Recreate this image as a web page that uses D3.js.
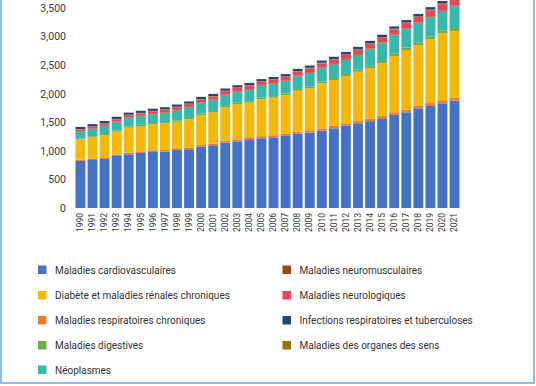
<!DOCTYPE html>
<html>
<head>
<meta charset="utf-8">
<script src="https://cdn.jsdelivr.net/npm/d3@7"></script>
<style>
  body { margin: 0; background: #fff; }
  svg { display: block; font-family: Roboto, "DejaVu Sans", sans-serif; }
</style>
</head>
<body>
<svg id="chart" width="536" height="386"></svg>
<script>
const years = d3.range(1990, 2022).map(String);
const yTicks = [0, 500, 1000, 1500, 2000, 2500, 3000, 3500];

// values, one per year 1990..2021
const cardio = [823, 840, 858, 910, 940, 963, 980, 985, 1015, 1027, 1073, 1097, 1143, 1167, 1190, 1220,
  1237, 1260, 1300, 1318, 1353, 1395, 1440, 1482, 1520, 1570, 1628, 1675, 1745, 1785, 1832, 1878];
const respChron = [25, 25, 26, 27, 28, 28, 29, 29, 30, 30, 31, 32, 33, 34, 35, 36,
  37, 38, 39, 40, 41, 42, 43, 44, 45, 47, 48, 49, 51, 52, 54, 56];
const diabete = [354, 372, 393, 398, 437, 444, 456, 468, 465, 495, 524, 546, 586, 614, 618, 646,
  656, 674, 714, 737, 788, 803, 827, 859, 885, 915, 984, 1041, 1057, 1115, 1171, 1160];
const digestives = [18, 18, 19, 19, 20, 20, 21, 21, 22, 22, 23, 24, 25, 26, 27, 28,
  29, 30, 31, 32, 33, 34, 35, 37, 38, 40, 42, 44, 46, 48, 50, 55];
const neoplasmes = [113, 125, 135, 150, 150, 150, 152, 160, 175, 185, 185, 187, 190, 192, 200, 205,
  210, 215, 222, 235, 232, 236, 245, 255, 290, 310, 320, 320, 330, 340, 330, 380];
const neuromusc = [8, 8, 8, 8, 9, 9, 9, 9, 9, 10, 10, 10, 10, 10, 11, 11,
  11, 11, 12, 12, 12, 12, 13, 13, 13, 13, 14, 14, 14, 15, 15, 15];
const neuro = [32, 34, 37, 38, 40, 42, 44, 46, 49, 49, 52, 54, 57, 59, 61, 62,
  65, 66, 68, 70, 72, 75, 77, 79, 82, 85, 89, 93, 99, 105, 115, 123];
const sens = [7, 7, 7, 8, 8, 8, 8, 8, 8, 9, 9, 9, 9, 9, 9, 10,
  10, 10, 10, 10, 11, 11, 11, 11, 11, 12, 12, 12, 13, 13, 13, 14];
const infections = [38, 38, 38, 38, 38, 38, 38, 38, 38, 38, 38, 38, 38, 38, 38, 38,
  38, 39, 39, 39, 39, 39, 39, 40, 40, 40, 40, 41, 41, 42, 42, 43];

const series = [
  { key: "cardio", label: "Maladies cardiovasculaires", color: "#4472c4", values: cardio },
  { key: "respChron", label: "Maladies respiratoires chroniques", color: "#ed7d31", values: respChron },
  { key: "diabete", label: "Diabète et maladies rénales chroniques", color: "#f5b80a", values: diabete },
  { key: "digestives", label: "Maladies digestives", color: "#70ad47", values: digestives },
  { key: "neoplasmes", label: "Néoplasmes", color: "#36b8ad", values: neoplasmes },
  { key: "neuromusc", label: "Maladies neuromusculaires", color: "#9e480e", values: neuromusc },
  { key: "neuro", label: "Maladies neurologiques", color: "#e5485d", values: neuro },
  { key: "sens", label: "Maladies des organes des sens", color: "#997300", values: sens },
  { key: "infections", label: "Infections respiratoires et tuberculoses", color: "#264478", values: infections }
];

// legend layout order (two columns)
const legendLeft = ["cardio", "diabete", "respChron", "digestives", "neoplasmes"];
const legendRight = ["neuromusc", "neuro", "infections", "sens"];

const svg = d3.select("#chart");

const table = years.map((y, i) => {
  const row = { year: y };
  series.forEach((s) => (row[s.key] = s.values[i]));
  return row;
});

const stacked = d3.stack().keys(series.map((s) => s.key))(table);

const xScale = d3.scaleBand().domain(years).range([75.5, 459.5]).paddingInner(0.18).paddingOuter(0);
const yScale = d3.scaleLinear().domain([0, 3500]).range([208, 8]);

// frame
svg.append("rect")
  .attr("x", 1).attr("y", -10)
  .attr("width", 533).attr("height", 393)
  .attr("fill", "none")
  .attr("stroke", "#8dbbe6")
  .attr("stroke-width", 2);

svg.append("g")
  .selectAll("g")
  .data(stacked)
  .join("g")
  .attr("fill", (d) => series.find((s) => s.key === d.key).color)
  .selectAll("rect")
  .data((d) => d)
  .join("rect")
  .attr("x", (d) => xScale(d.data.year))
  .attr("width", xScale.bandwidth())
  .attr("y", (d) => yScale(d[1]))
  .attr("height", (d) => yScale(d[0]) - yScale(d[1]));

const yAxis = d3.axisLeft(yScale).tickValues(yTicks).tickFormat(d3.format(",")).tickSize(0).tickPadding(0);
svg.append("g")
  .attr("transform", "translate(66,0)")
  .call(yAxis)
  .call((g) => g.select(".domain").remove())
  .selectAll("text")
  .attr("font-size", 10.5)
  .attr("font-family", "Roboto, sans-serif")
  .attr("fill", "#3a3a3a");

const xAxis = d3.axisBottom(xScale).tickSize(0).tickPadding(0);
svg.append("g")
  .attr("transform", "translate(0,213)")
  .call(xAxis)
  .call((g) => g.select(".domain").remove())
  .selectAll("text")
  .attr("font-size", 8.5)
  .attr("font-family", "Roboto, sans-serif")
  .attr("fill", "#3a3a3a")
  .attr("transform", "rotate(-90)")
  .attr("text-anchor", "end")
  .attr("x", 0)
  .attr("y", 0)
  .attr("dx", 0)
  .attr("dy", "0.32em");

const rowY = [270, 295.5, 320.5, 345.5, 370];
function drawLegend(keys, x) {
  const g = svg.append("g");
  keys.forEach((k, i) => {
    const s = series.find((d) => d.key === k);
    g.append("rect")
      .attr("x", x).attr("y", rowY[i] - 4.5)
      .attr("width", 8.5).attr("height", 8.5)
      .attr("fill", s.color);
    g.append("text")
      .attr("x", x + 17).attr("y", rowY[i])
      .attr("dy", "0.35em")
      .attr("font-size", 10)
      .attr("fill", "#333")
      .text(s.label);
  });
}
drawLegend(legendLeft, 38);
drawLegend(legendRight, 282.5);
</script>
</body>
</html>
